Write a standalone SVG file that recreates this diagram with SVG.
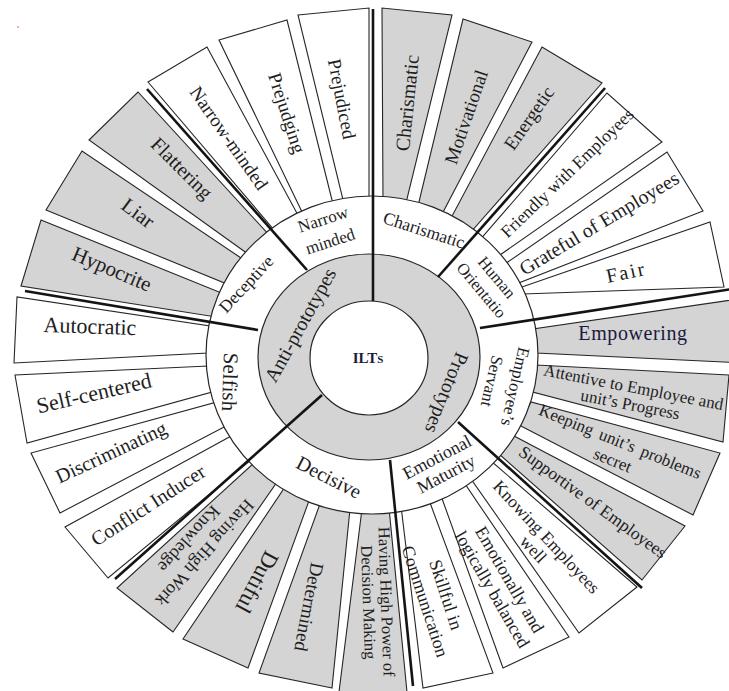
<svg xmlns="http://www.w3.org/2000/svg" width="729" height="691" viewBox="0 0 729 691">
<style>
.g{fill:#d4d4d4;stroke:#262626;stroke-width:1.1}
.w{fill:#ffffff;stroke:#262626;stroke-width:1.1}
.ring{stroke:#262626;stroke-width:1.2}
text{font-family:"Liberation Serif","Times New Roman",serif;fill:#1e1e1e;text-anchor:middle;dominant-baseline:central}
.dv{stroke:#141414;stroke-width:2.6;fill:none}
</style>
<rect width="729" height="691" fill="#ffffff"/>
<circle cx="18" cy="27" r="1.1" fill="#f29a9a"/>

<g id="n-prejudiced"><polygon class="w" points="298,15 369,8 369,202 344,204"/><text transform="translate(342,99) rotate(79)" font-size="19">Prejudiced</text></g>
<g id="n-prejudging"><polygon class="w" points="219,40 287,20 333,204 304,216"/><text transform="translate(287,113) rotate(72)" font-size="19">Prejudging</text></g>
<g id="n-narrow-minded"><polygon class="w" points="148,82 207,47 299,217 275,231"/><text transform="translate(229,138) rotate(55)" font-size="19">Narrow-minded</text></g>
<g id="n-flattering"><polygon class="g" points="89,140 138,92 270,236 248,254"/><text transform="translate(182,168) rotate(45)" font-size="20">Flattering</text></g>
<g id="n-liar"><polygon class="g" points="46,210 82,151 244,260 227,284"/><text transform="translate(138,213) rotate(37)" font-size="21">Liar</text></g>
<g id="n-hypocrite"><polygon class="g" points="21,286 41,220 224,294 216,317"/><text transform="translate(112,269) rotate(23)" font-size="21">Hypocrite</text></g>
<g id="n-autocratic"><polygon class="w" points="14,363 17,297 210,326 208,353"/><text transform="translate(90,326) rotate(2)" font-size="22">Autocratic</text></g>
<g id="n-self-centered"><polygon class="w" points="27,443 15,375 208,366 212,392"/><text transform="translate(94,393) rotate(-13)" font-size="22">Self-centered</text></g>
<g id="n-discriminating"><polygon class="w" points="60,513 31,453 217,402 226,426"/><text transform="translate(111,452) rotate(-25)" font-size="20">Discriminating</text></g>
<g id="n-conflict"><polygon class="w" points="108,578 65,527 233,435 251,460"/><text transform="translate(148,505) rotate(-33)" font-size="20">Conflict Inducer</text></g>
<g id="n-work-knowledge"><polygon class="g" points="173,632 117,588 255,462 277,482"/><text transform="translate(197,546) rotate(132)" font-size="18"><tspan x="0" y="-10.5">Having High Work</tspan><tspan x="0" y="10.5">Knowledge</tspan></text></g>
<g id="n-dutiful"><polygon class="g" points="248,668 183,639 285,487 310,498"/><text transform="translate(257,582) rotate(118)" font-size="23">Dutiful</text></g>
<g id="n-determined"><polygon class="g" points="332,688 259,673 321,501 350,509"/><text transform="translate(309,607) rotate(101)" font-size="19">Determined</text></g>
<g id="n-decision-power"><polygon class="g" points="407,692 339,692 362,509 389,508"/><text transform="translate(378,602) rotate(88)" font-size="16.5"><tspan x="0" y="-9">Having High Power of</tspan><tspan x="0" y="9">Decision Making</tspan></text></g>
<g id="n-skillful"><polygon class="w" points="493,673 423,688 401,506 429,500"/><text transform="translate(435.5,598) rotate(72)" font-size="18"><tspan x="0" y="-11">Skillful in</tspan><tspan x="0" y="11">Communication</tspan></text></g>
<g id="n-balanced"><polygon class="w" points="569,637 503,668 440,493 465,484"/><text transform="translate(501,584.5) rotate(60)" font-size="18"><tspan x="0" y="-10">Emotionally and</tspan><tspan x="0" y="10">logically balanced</tspan></text></g>
<g id="n-knowing"><polygon class="w" points="637,587 579,633 471,479 491,461"/><text transform="translate(540,543) rotate(47)" font-size="17.5"><tspan x="0" y="-9">Knowing Employees</tspan><tspan x="0" y="9">well</tspan></text></g>
<g id="n-supportive"><polygon class="g" points="642,580 685,526 514,436 499,454"/><text transform="translate(593,502) rotate(36)" font-size="17.5">Supportive of Employees</text></g>
<g id="n-keeping"><polygon class="g" points="693,515 720,453 531,402 519,425"/><text transform="translate(616.5,450.5) rotate(22)" font-size="17" word-spacing="3"><tspan x="0" y="-10">Keeping unit’s problems</tspan><tspan x="0" y="10">secret</tspan></text></g>
<g id="n-attentive"><polygon class="g" points="723,442 729,375 536,365 529,391"/><text transform="translate(632,395.5) rotate(11)" font-size="17"><tspan x="0" y="-8.75">Attentive to Employee and</tspan><tspan x="0" y="8.75">unit’s Progress</tspan></text></g>
<g id="n-empowering"><polygon class="g" points="536,353 533,329 745,298 745,363"/><text x="633" y="333" font-size="20" letter-spacing="0.6" style="fill:#1a1a40">Empowering</text></g>
<g id="n-fair"><polygon class="w" points="523,294 519,288 710,222 724,287"/><text transform="translate(626,272) rotate(-12)" font-size="20" letter-spacing="2">Fair</text></g>
<g id="n-grateful"><polygon class="w" points="516,284 505,264 667,152 703,211"/><text transform="translate(599,223) rotate(-31)" font-size="20">Grateful of Employees</text></g>
<g id="n-friendly"><polygon class="w" points="500,255 479,241 607,93 662,142"/><text transform="translate(567,173) rotate(-44)" font-size="17.5">Friendly with Employees</text></g>
<g id="n-energetic"><polygon class="g" points="470,233 451,218 542,47 602,83"/><text transform="translate(529,118) rotate(-55)" font-size="19">Energetic</text></g>
<g id="n-motivational"><polygon class="g" points="441,216 418,206 463,19 532,42"/><text transform="translate(466,117) rotate(-71)" font-size="19">Motivational</text></g>
<g id="n-charismatic"><polygon class="g" points="406,203 383,201 382,8 452,15"/><text transform="translate(407,103) rotate(-84)" font-size="20">Charismatic</text></g>

<g id="rings">
<ellipse class="ring" cx="372" cy="355" rx="166" ry="159" fill="#ffffff"/>
<ellipse class="ring" cx="369" cy="357" rx="111" ry="103" fill="#d4d4d4"/>
<ellipse class="ring" cx="369" cy="358" rx="59" ry="57" fill="#ffffff"/>
</g>

<g id="connectors">
<path class="dv" d="M373,9 V301"/>
<path class="dv" d="M147,89 L307,270"/>
<path class="dv" d="M25,291 L258,330"/>
<path class="dv" d="M115,579 L322,395"/>
<path class="dv" d="M390,460 L413,686"/>
<path class="dv" d="M458,422 L642,588"/>
<path class="dv" d="M480,328 L732,289"/>
<path class="dv" d="M438,277 L605,88"/>
</g>

<g id="c-narrow"><text transform="translate(326.5,230) rotate(-18)" font-size="17"><tspan x="0" y="-11.5">Narrow</tspan><tspan x="0" y="11.5">minded</tspan></text></g>
<g id="c-deceptive"><text transform="translate(246,284) rotate(-47)" font-size="17.5">Deceptive</text></g>
<g id="c-selfish"><text transform="translate(230,382) rotate(92)" font-size="21">Selfish</text></g>
<g id="c-decisive"><text transform="translate(329,477) rotate(27)" font-size="20">Decisive</text></g>
<g id="c-emotional"><text transform="translate(441.5,465.5) rotate(-28)" font-size="18"><tspan x="0" y="-9.5">Emotional</tspan><tspan x="0" y="9.5">Maturity</tspan></text></g>
<g id="c-servant"><text transform="translate(504,384) rotate(103)" font-size="17"><tspan x="0" y="-12">Employee’s</tspan><tspan x="0" y="12">Servant</tspan></text></g>
<g id="c-human"><text transform="translate(489.5,283.5) rotate(50)" font-size="16.5"><tspan x="0" y="-10">Human</tspan><tspan x="0" y="10">Orientatio</tspan></text></g>
<g id="c-charismatic"><text transform="translate(424,230) rotate(18)" font-size="17.5">Charismatic</text></g>

<g id="anti-prototypes"><text transform="translate(300,325) rotate(-61)" font-size="20">Anti-prototypes</text></g>
<g id="prototypes"><text transform="translate(447,393) rotate(112)" font-size="20">Prototypes</text></g>
<g id="ilts"><text x="368" y="358" font-size="15" font-weight="bold" style="font-variant:small-caps;fill:#1c1c3a">ILTs</text></g>
</svg>
